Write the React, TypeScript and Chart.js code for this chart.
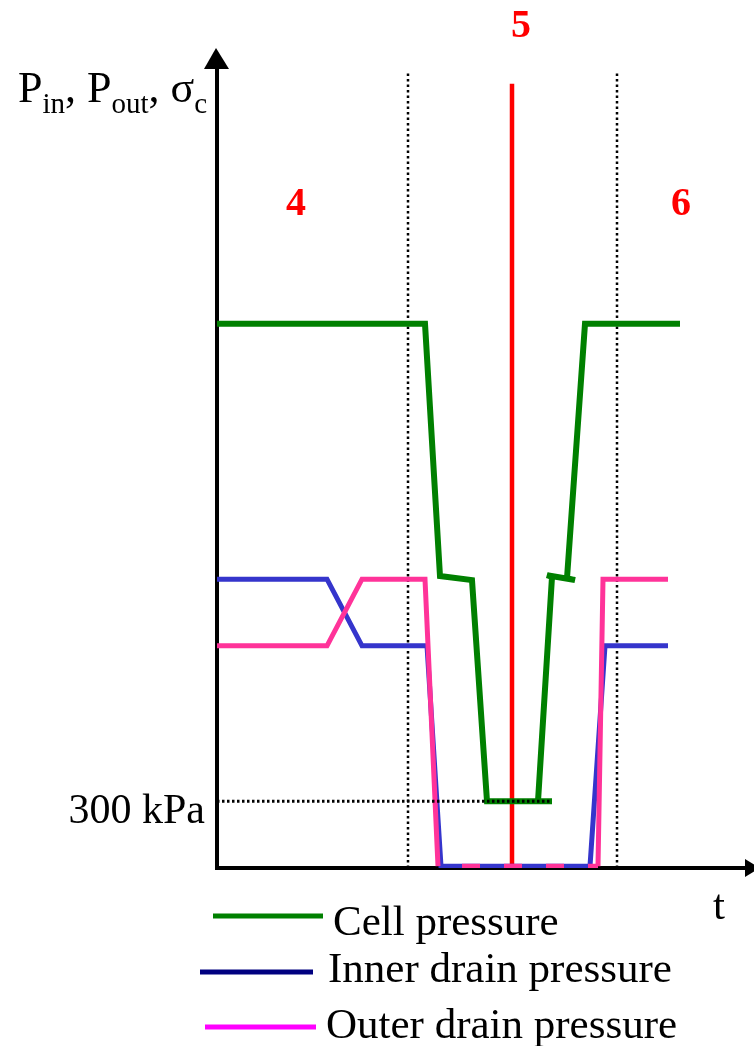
import React, { useEffect, useRef } from "react";
import { Chart, registerables } from "chart.js";

Chart.register(...registerables);

// time (arbitrary units) and pressure (kPa) read from the schematic
const cellT = [0, 41.6, 44.6, 51, 54, 67, 64.2, 67, 66, 71.6, 70, 73.6, 92.6];
const cellP = [2450, 2450, 1314, 1296, 300, 300, 300, 1310, 1318, 1296, 1305, 2450, 2450];

const innerT = [0, 22, 29, 42, 44.8, 74.6, 77.6, 90.2];
const innerP = [1300, 1300, 1000, 1000, 8, 8, 1000, 1000];

const outerT = [0, 22, 29, 41.6, 44.2, 76.2, 77.2, 90.2];
const outerP = [1000, 1000, 1300, 1300, 8, 8, 1300, 1300];

const refT = [0, 67];
const refP = [300, 300];

const stageLines = [38.2, 59, 80]; // boundaries: dotted, red (stage 5), dotted
const stageTop = [3580, 3530, 3580];

const stageLabels = ["4", "5", "6"];
const legendLabels = ["Cell pressure", "Inner drain pressure", "Outer drain pressure"];
const refLabel = "300 kPa";
const xLabel = "t";

const SERIF = '"Liberation Serif", "Times New Roman", serif';

const pts = (xs: number[], ys: number[]) => xs.map((x, i) => ({ x, y: ys[i] }));

const decor = {
  id: "decor",
  beforeDatasetsDraw(chart: any) {
    const ctx = chart.ctx;
    const { left, bottom } = chart.chartArea;
    ctx.save();
    ctx.strokeStyle = "#000";
    ctx.fillStyle = "#000";
    ctx.lineWidth = 4;
    ctx.beginPath();
    ctx.moveTo(left, bottom + 2);
    ctx.lineTo(left, 66);
    ctx.moveTo(left - 2, bottom);
    ctx.lineTo(746, bottom);
    ctx.stroke();
    ctx.beginPath();
    ctx.moveTo(left - 1, 48);
    ctx.lineTo(left - 13, 69);
    ctx.lineTo(left + 12, 69);
    ctx.closePath();
    ctx.fill();
    ctx.beginPath();
    ctx.moveTo(760, bottom);
    ctx.lineTo(745, bottom - 9);
    ctx.lineTo(745, bottom + 9);
    ctx.closePath();
    ctx.fill();
    ctx.restore();
  },
  afterDraw(chart: any) {
    const ctx = chart.ctx;
    ctx.save();
    // stage numbers
    ctx.fillStyle = "#ff0000";
    ctx.font = `bold 40px ${SERIF}`;
    ctx.textAlign = "center";
    ctx.textBaseline = "alphabetic";
    ctx.fillText(stageLabels[0], 296, 215);
    ctx.fillText(stageLabels[1], 521, 37);
    ctx.fillText(stageLabels[2], 681, 215);

    // 300 kPa label
    ctx.fillStyle = "#000";
    ctx.font = `42px ${SERIF}`;
    ctx.textAlign = "right";
    ctx.fillText(refLabel, 205, 823);

    // y axis label with subscripts
    ctx.textAlign = "left";
    const parts: [string, boolean][] = [
      ["P", false], ["in", true], [", P", false], ["out", true], [", σ", false], ["c", true],
    ];
    let x = 18;
    for (const [s, sub] of parts) {
      ctx.font = sub ? `29px ${SERIF}` : `44px ${SERIF}`;
      ctx.fillText(s, x, sub ? 113 : 102);
      x += ctx.measureText(s).width;
    }

    // x axis label
    ctx.font = `43px ${SERIF}`;
    ctx.fillText(xLabel, 713, 919);

    // legend
    const legend = [
      { c: "#008000", x0: 213, x1: 323, y: 916, tx: 333, ty: 935 },
      { c: "#000080", x0: 200, x1: 313, y: 972, tx: 328, ty: 982 },
      { c: "#ff00ff", x0: 205, x1: 316, y: 1027, tx: 326, ty: 1038 },
    ];
    legend.forEach((l, i) => {
      ctx.strokeStyle = l.c;
      ctx.lineWidth = 5;
      ctx.beginPath();
      ctx.moveTo(l.x0, l.y);
      ctx.lineTo(l.x1, l.y);
      ctx.stroke();
      ctx.fillStyle = "#000";
      ctx.font = `43px ${SERIF}`;
      ctx.fillText(legendLabels[i], l.tx, l.ty);
    });
    ctx.restore();
  },
};

export default function App() {
  const ref = useRef<HTMLCanvasElement>(null);
  useEffect(() => {
    if (!ref.current) return;
    const datasets: any[] = [
      {
        label: "300 kPa reference",
        data: pts(refT, refP),
        borderColor: "#000",
        borderWidth: 3,
        borderDash: [2.5, 2.5],
        order: 0,
      },
      {
        label: legendLabels[0],
        data: pts(cellT, cellP),
        borderColor: "#008000",
        borderWidth: 6,
        order: 1,
      },
      {
        label: legendLabels[2],
        data: pts(outerT, outerP),
        borderColor: "#ff3399",
        borderWidth: 5,
        borderCapStyle: "butt",
        segment: {
          borderDash: (c: any) => (c.p0.parsed.y < 20 && c.p1.parsed.y < 20 ? [18, 24] : undefined),
          borderDashOffset: (c: any) => (c.p0.parsed.y < 20 && c.p1.parsed.y < 20 ? 18 : undefined),
        },
        order: 2,
      },
      {
        label: legendLabels[1],
        data: pts(innerT, innerP),
        borderColor: "#3535cc",
        borderWidth: 5,
        order: 3,
      },
    ];
    stageLines.forEach((t, i) => {
      const red = i === 1;
      datasets.push({
        label: "stage " + i,
        data: [
          { x: t, y: 0 },
          { x: t, y: stageTop[i] },
        ],
        borderColor: red ? "#ff0000" : "#000",
        borderWidth: red ? 4.5 : 2.5,
        borderDash: red ? [] : [2.5, 3],
        order: red ? 4 : 5,
      });
    });

    const chart = new Chart(ref.current, {
      type: "line",
      data: { datasets },
      options: {
        animation: false,
        responsive: false,
        devicePixelRatio: 1,
        layout: { padding: { left: 217, right: 2, top: 46, bottom: 178 } },
        scales: {
          x: { type: "linear", min: 0, max: 107, display: false },
          y: { type: "linear", min: 0, max: 3700, display: false },
        },
        elements: { point: { radius: 0, hoverRadius: 0 }, line: { tension: 0, borderJoinStyle: "miter" } },
        plugins: { legend: { display: false }, tooltip: { enabled: false } },
        events: [],
      },
      plugins: [decor],
    } as any);
    return () => chart.destroy();
  }, []);

  return (
    <div style={{ position: "absolute", left: 0, top: 0, width: 754, height: 1046, background: "#fff" }}>
      <canvas ref={ref} width={754} height={1046} style={{ width: 754, height: 1046, display: "block" }} />
    </div>
  );
}
